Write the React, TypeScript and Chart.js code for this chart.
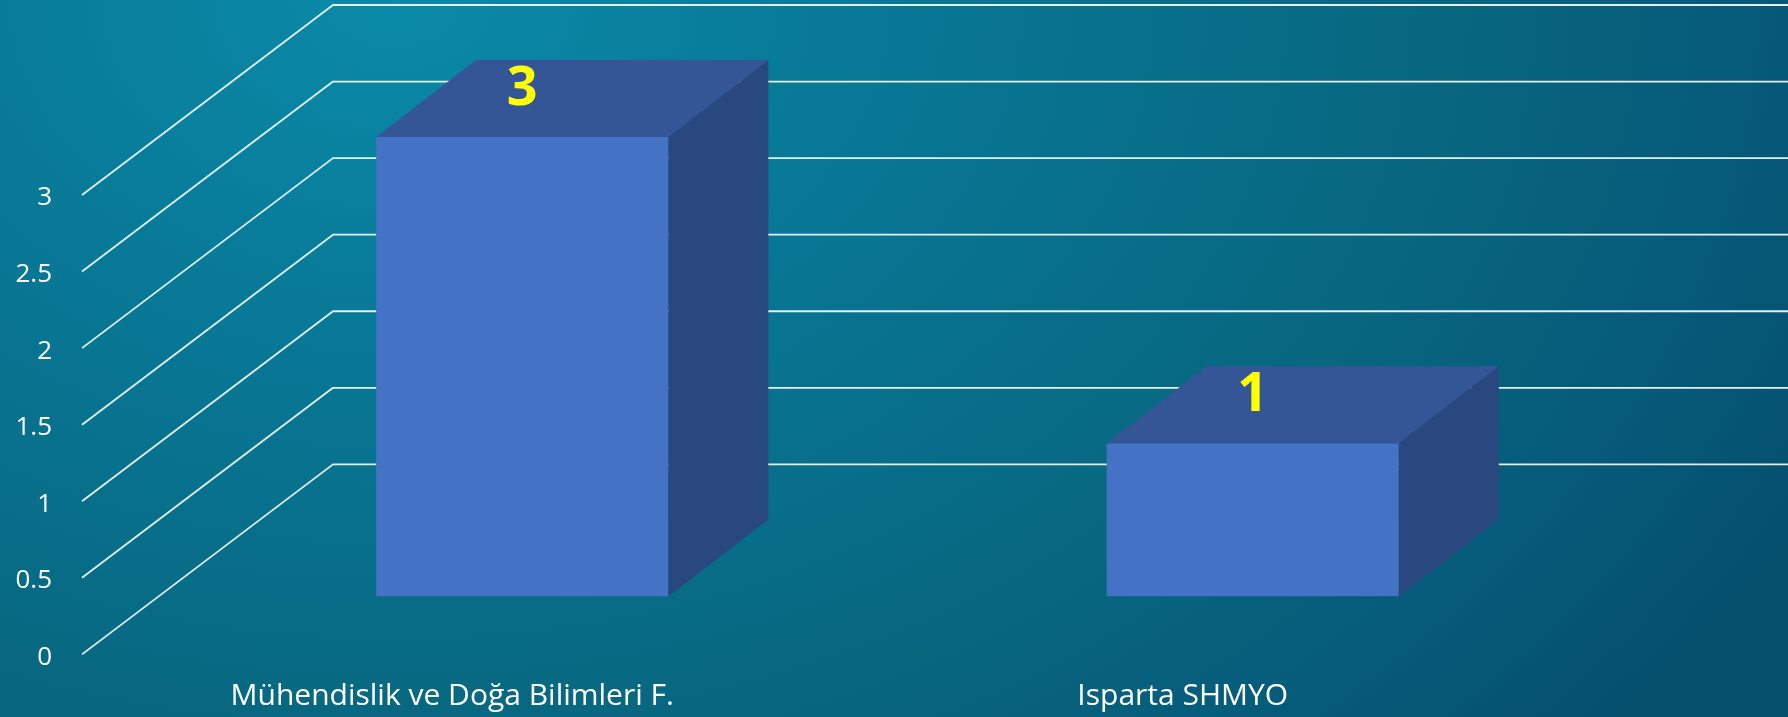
import React, { useEffect, useRef } from "react";
import { Chart, registerables } from "chart.js";

Chart.register(...registerables);

// ---- data ----
const categories = ["Mühendislik ve Doğa Bilimleri F.", "Isparta SHMYO"];
const values = [3, 1];
const yMin = 0;
const yMax = 3;
const yStep = 0.5;

// ---- 3D projection (pixel offsets) ----
const FRONT = { dx: 75, dy: 58 }; // from bar front plane to the front edge of the floor/wall
const BAR = { dx: 100, dy: 77 }; // bar depth
const BACK = { dx: 176, dy: 132 }; // from bar front plane to back wall

const COLORS = {
  front: "#4472C4",
  top: "#345696",
  side: "#2A4880",
  grid: "rgba(238,247,250,0.95)",
  label: "#FFFF00",
  text: "#FFFFFF",
};

const threeDPlugin = {
  id: "threeD",
  beforeDatasetsDraw(chart: any) {
    const { ctx, chartArea, scales } = chart;
    const y = scales.y;
    ctx.save();
    ctx.strokeStyle = COLORS.grid;
    ctx.lineWidth = 1.8;
    ctx.lineJoin = "round";
    for (const t of y.ticks) {
      const py = y.getPixelForValue(t.value);
      ctx.beginPath();
      ctx.moveTo(chartArea.left - FRONT.dx, py + FRONT.dy);
      ctx.lineTo(chartArea.left + BACK.dx, py - BACK.dy);
      ctx.lineTo(chart.width + 5, py - BACK.dy);
      ctx.stroke();
    }
    ctx.restore();
  },
  afterDatasetsDraw(chart: any) {
    const { ctx } = chart;
    const meta = chart.getDatasetMeta(0);
    const data = chart.data.datasets[0].data as number[];
    ctx.save();
    meta.data.forEach((bar: any, i: number) => {
      const { x, y, base, width } = bar.getProps(["x", "y", "base", "width"], true);
      const l = x - width / 2;
      const r = x + width / 2;
      // top face
      ctx.fillStyle = COLORS.top;
      ctx.beginPath();
      ctx.moveTo(l, y);
      ctx.lineTo(l + BAR.dx, y - BAR.dy);
      ctx.lineTo(r + BAR.dx, y - BAR.dy);
      ctx.lineTo(r, y);
      ctx.closePath();
      ctx.fill();
      // side face
      ctx.fillStyle = COLORS.side;
      ctx.beginPath();
      ctx.moveTo(r, y);
      ctx.lineTo(r + BAR.dx, y - BAR.dy);
      ctx.lineTo(r + BAR.dx, base - BAR.dy);
      ctx.lineTo(r, base);
      ctx.closePath();
      ctx.fill();
      // data label
      ctx.fillStyle = COLORS.label;
      ctx.font = "bold 54px 'Open Sans', sans-serif";
      ctx.textAlign = "center";
      ctx.textBaseline = "alphabetic";
      ctx.fillText(String(data[i]), x, y - 32);
    });
    ctx.restore();
  },
};

export default function App() {
  const ref = useRef<HTMLCanvasElement | null>(null);

  useEffect(() => {
    if (!ref.current) return;
    const chart = new Chart(ref.current, {
      type: "bar",
      data: {
        labels: categories,
        datasets: [
          {
            data: values,
            backgroundColor: COLORS.front,
            borderWidth: 0,
            categoryPercentage: 1,
            barPercentage: 0.4,
          },
        ],
      },
      options: {
        animation: false,
        responsive: false,
        maintainAspectRatio: false,
        layout: { padding: { top: 137, right: 170, left: 0, bottom: 0 } },
        plugins: {
          legend: { display: false },
          tooltip: { enabled: false },
        },
        scales: {
          x: {
            grid: { display: false, drawTicks: false },
            border: { display: false },
            ticks: {
              color: COLORS.text,
              font: { family: "'Open Sans', sans-serif", size: 30 },
              padding: 82,
              labelOffset: -70,
              maxRotation: 0,
              autoSkip: false,
            },
            afterFit: (axis: any) => {
              axis.height = 119;
            },
          },
          y: {
            min: yMin,
            max: yMax,
            grid: { display: false, drawTicks: false },
            border: { display: false },
            ticks: {
              stepSize: yStep,
              color: COLORS.text,
              font: { family: "'Open Sans', sans-serif", size: 26 },
              padding: 105,
              labelOffset: FRONT.dy + 3,
              callback: (v: any) => String(v),
            },
            afterFit: (axis: any) => {
              axis.width = 157;
            },
          },
        },
      },
      plugins: [threeDPlugin],
    });
    return () => chart.destroy();
  }, []);

  return (
    <div
      style={{
        position: "fixed",
        left: 0,
        top: 0,
        width: 1788,
        height: 717,
        background:
          "radial-gradient(ellipse 90% 160% at 22% 0%, #0A8AA8 0%, #087896 30%, #08667F 66%, #065A7A 84%, #054E6C 100%)",
      }}
    >
      <canvas ref={ref} width={1788} height={717} style={{ display: "block" }} />
    </div>
  );
}
